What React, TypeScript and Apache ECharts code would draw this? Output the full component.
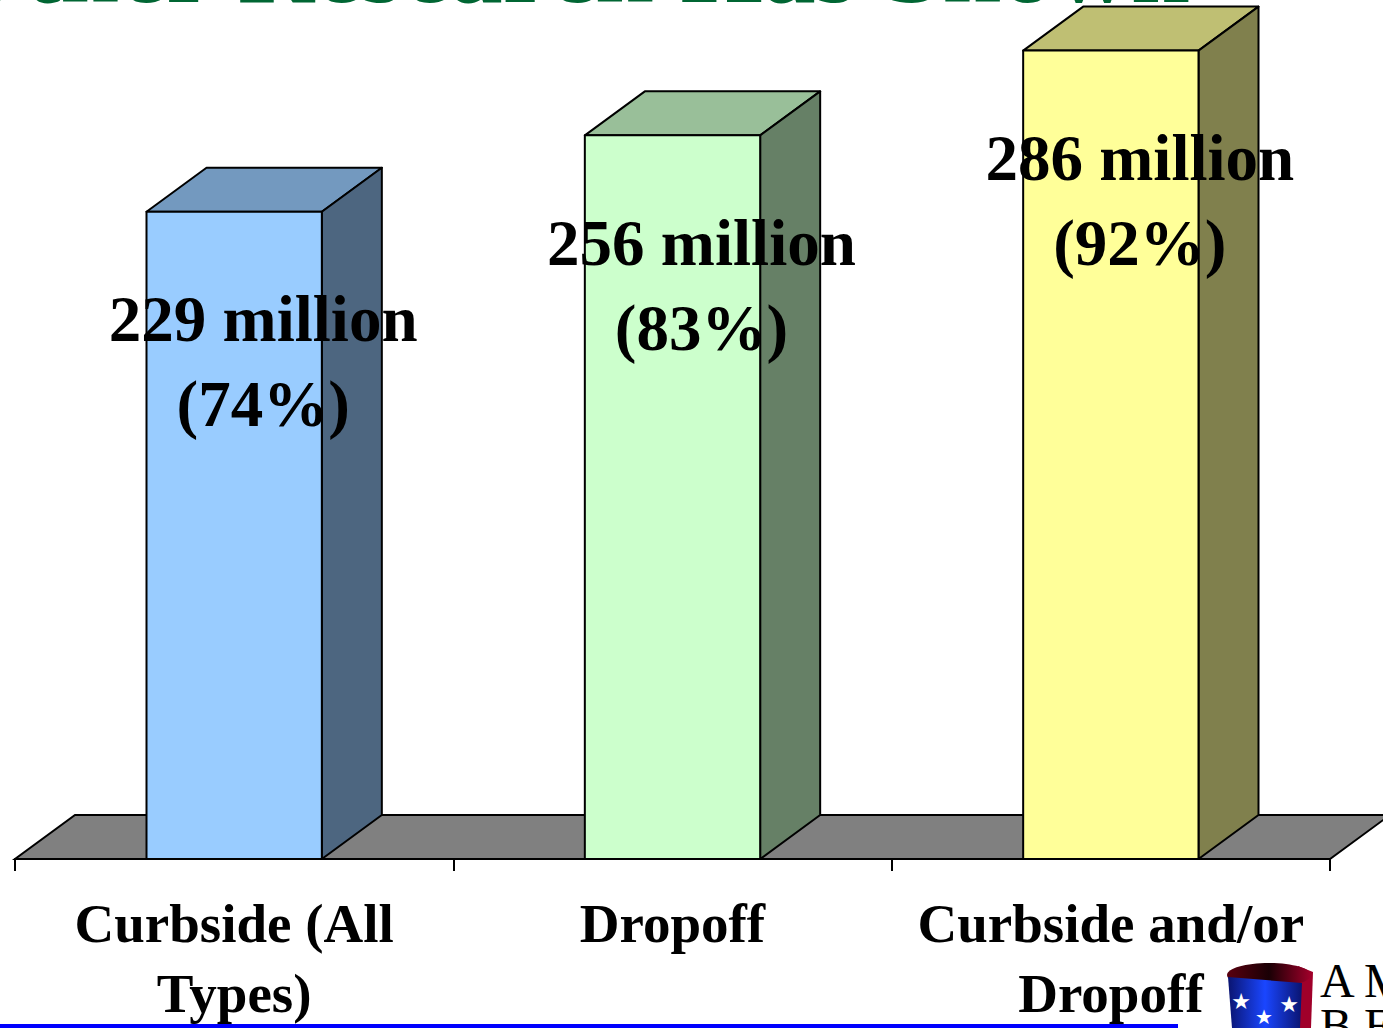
import React, { useEffect, useRef } from "react";
import * as echarts from "echarts";

const categories = ["Curbside (All\nTypes)", "Dropoff", "Curbside and/or\nDropoff"];
const millions = [229, 256, 286];
const percents = [74, 83, 92];
const yMin = 0;
const yMax = 300;

const FRONT = ["#99CCFF", "#CCFFCC", "#FFFF99"];
const TOP = ["#7399BF", "#99BF99", "#BFBF73"];
const SIDE = ["#4D6680", "#668066", "#80804D"];
const DX = 60;
const DY = 44;
const BAR_RATIO = 0.4;
const SERIF = '"Liberation Serif", "Times New Roman", serif';

export default function App() {
  const ref = useRef<HTMLDivElement>(null);
  useEffect(() => {
    document.body.style.margin = "0";
    const chart = echarts.init(ref.current!, null, { renderer: "svg" });
    const barData = categories.map((_, i) => [i, millions[i], percents[i]]);
    const option: any = {
      animation: false,
      backgroundColor: "#ffffff",
      grid: { left: 15, right: 53, top: 11, bottom: 164 },
      xAxis: {
        type: "category",
        data: categories,
        boundaryGap: true,
        z: 5,
        axisLine: { show: true, lineStyle: { color: "#000", width: 2 } },
        axisTick: { show: true, length: 12, lineStyle: { color: "#000", width: 2 } },
        axisLabel: {
          interval: 0,
          margin: 29,
          color: "#000",
          fontSize: 55,
          fontWeight: "bold",
          fontFamily: SERIF,
          lineHeight: 70,
        },
        splitLine: { show: false },
      },
      yAxis: { type: "value", min: yMin, max: yMax, show: false, splitLine: { show: false } },
      graphic: [
        {
          type: "text",
          x: 1190,
          y: -34,
          silent: true,
          style: {
            text: "Other Research Has Shown",
            fill: "#006633",
            font: `bold 106px ${SERIF}`,
            align: "right",
            verticalAlign: "middle",
          },
        },
        { type: "rect", shape: { x: 0, y: 1024, width: 1178, height: 4 }, style: { fill: "#0000FF" } },
        {
          type: "polygon",
          shape: { points: [[1298, 966], [1313, 972], [1311, 1028], [1296, 1028]] },
          style: { fill: "#A0002A" },
        },
        {
          type: "ellipse",
          shape: { cx: 1269, cy: 975, rx: 42, ry: 12 },
          style: {
            fill: new echarts.graphic.LinearGradient(0, 0, 1, 0, [
              { offset: 0, color: "#5a0010" },
              { offset: 0.5, color: "#1a0005" },
              { offset: 1, color: "#a0002a" },
            ]),
          },
        },
        {
          type: "polygon",
          shape: { points: [[1228, 977], [1302, 983], [1300, 1028], [1232, 1028]] },
          style: {
            fill: new echarts.graphic.LinearGradient(0, 0, 1, 0, [
              { offset: 0, color: "#0a1470" },
              { offset: 0.5, color: "#1a46ff" },
              { offset: 1, color: "#0a1470" },
            ]),
          },
        },
        { type: "text", x: 1241, y: 1001, style: { text: "★", fill: "#fff", font: '22px "DejaVu Sans"', align: "center", verticalAlign: "middle" } },
        { type: "text", x: 1289, y: 1004, style: { text: "★", fill: "#fff", font: '22px "DejaVu Sans"', align: "center", verticalAlign: "middle" } },
        { type: "text", x: 1264, y: 1017, style: { text: "★", fill: "#fff", font: '20px "DejaVu Sans"', align: "center", verticalAlign: "middle" } },
        {
          type: "text",
          x: 1320,
          y: 958,
          style: { text: "A M\nB E", fill: "#000", font: `48px ${SERIF}`, lineHeight: 45, align: "left", verticalAlign: "top" },
        },
      ],
      series: [
        {
          type: "custom",
          z: 1,
          silent: true,
          data: [[0, 0]],
          renderItem: (params: any) => {
            const cs = params.coordSys;
            const yb = cs.y + cs.height;
            const xl = cs.x;
            const xr = cs.x + cs.width;
            return {
              type: "polygon",
              shape: { points: [[xl, yb], [xr, yb], [xr + DX, yb - DY], [xl + DX, yb - DY]] },
              style: { fill: "#808080", stroke: "#000", lineWidth: 2 },
            };
          },
        },
        {
          type: "custom",
          z: 3,
          silent: true,
          data: barData,
          renderItem: (params: any, api: any) => {
            const idx = api.value(0);
            const val = api.value(1);
            const pct = api.value(2);
            const base = api.coord([idx, 0]);
            const top = api.coord([idx, val]);
            const bw = api.size([1, 0])[0] * BAR_RATIO;
            const x0 = base[0] - bw / 2;
            const x1 = base[0] + bw / 2;
            const yb = base[1];
            const yt = top[1];
            const i = params.dataIndex;
            const st = { stroke: "#000", lineWidth: 2, lineJoin: "round" };
            return {
              type: "group",
              children: [
                {
                  type: "polygon",
                  shape: { points: [[x0, yt], [x1, yt], [x1 + DX, yt - DY], [x0 + DX, yt - DY]] },
                  style: { fill: TOP[i], ...st },
                },
                {
                  type: "polygon",
                  shape: { points: [[x1, yt], [x1 + DX, yt - DY], [x1 + DX, yb - DY], [x1, yb]] },
                  style: { fill: SIDE[i], ...st },
                },
                {
                  type: "rect",
                  shape: { x: x0, y: yt, width: bw, height: yb - yt },
                  style: { fill: FRONT[i], ...st },
                },
                {
                  type: "text",
                  x: base[0] + 29,
                  y: yt + 65,
                  style: {
                    text: `${val} million\n(${pct}%)`,
                    fill: "#000",
                    font: `bold 65px ${SERIF}`,
                    lineHeight: 85,
                    align: "center",
                    verticalAlign: "top",
                  },
                },
              ],
            };
          },
        },
      ],
    };
    chart.setOption(option);
    return () => chart.dispose();
  }, []);
  return (
    <div
      ref={ref}
      style={{ position: "absolute", left: 0, top: 0, width: 1383, height: 1028, overflow: "hidden" }}
    />
  );
}
